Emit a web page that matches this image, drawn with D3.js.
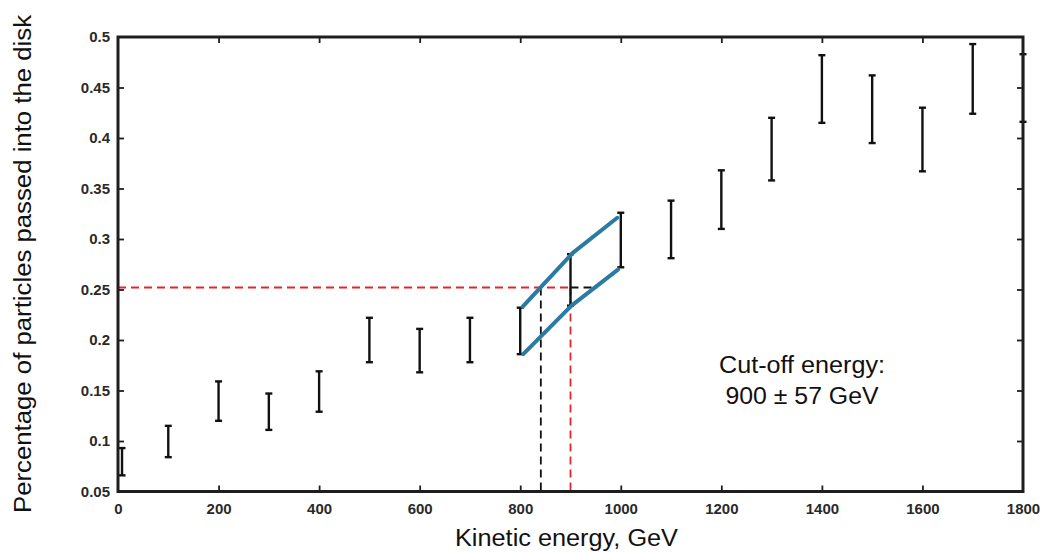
<!DOCTYPE html>
<html>
<head>
<meta charset="utf-8">
<script src="https://cdn.jsdelivr.net/npm/d3@7"></script>
<style>
  html, body { margin: 0; padding: 0; background: #fff; }
  svg { display: block; }
</style>
</head>
<body>
<svg id="chart" width="1045" height="552"></svg>
<script>
// ---- data ----
const energies = [8, 100, 200, 300, 400, 500, 600, 700, 800, 900, 1000, 1100, 1200, 1300, 1400, 1500, 1600, 1700, 1800];
const errUpper = [0.093, 0.115, 0.159, 0.147, 0.169, 0.222, 0.211, 0.222, 0.232, 0.285, 0.326, 0.338, 0.368, 0.420, 0.482, 0.462, 0.430, 0.493, 0.483];
const errLower = [0.066, 0.084, 0.120, 0.111, 0.129, 0.178, 0.168, 0.178, 0.186, 0.234, 0.272, 0.281, 0.310, 0.358, 0.415, 0.395, 0.367, 0.424, 0.416];

const bandUpperX = [805, 904, 993];
const bandUpperY = [0.233, 0.286, 0.321];
const bandLowerX = [806, 902, 995];
const bandLowerY = [0.186, 0.234, 0.270];

const cutoffLevel = 0.252;
const cutoffEnergy = 900;
const crossEnergy = 841;
const guideEndEnergy = 953;

const xTicks = [0, 200, 400, 600, 800, 1000, 1200, 1400, 1600, 1800];
const xTickLabels = ["0", "200", "400", "600", "800", "1000", "1200", "1400", "1600", "1800"];
const yTicks = [0.05, 0.1, 0.15, 0.2, 0.25, 0.3, 0.35, 0.4, 0.45, 0.5];
const yTickLabels = ["0.05", "0.1", "0.15", "0.2", "0.25", "0.3", "0.35", "0.4", "0.45", "0.5"];

const xLabel = "Kinetic energy, GeV";
const yLabel = "Percentage of particles passed into the disk";
const noteLines = ["Cut-off energy:", "900 \u00B1 57 GeV"];

// ---- layout ----
const L = 118, R = 1023, T = 37, B = 491.5;
const svg = d3.select("#chart");
const x = d3.scaleLinear().domain([0, 1800]).range([L, R]);
const y = d3.scaleLinear().domain([0.05, 0.5]).range([B, T]);
const font = "'Liberation Sans', Arial, Helvetica, sans-serif";

// guides (drawn under bars)
const g = svg.append("g");
g.append("line")
  .attr("x1", x(0)).attr("x2", x(cutoffEnergy))
  .attr("y1", y(cutoffLevel)).attr("y2", y(cutoffLevel))
  .attr("stroke", "#e3262a").attr("stroke-width", 1.8).attr("stroke-dasharray", "8,5");
g.append("line")
  .attr("x1", x(cutoffEnergy)).attr("x2", x(guideEndEnergy))
  .attr("y1", y(cutoffLevel)).attr("y2", y(cutoffLevel))
  .attr("stroke", "#111").attr("stroke-width", 1.8).attr("stroke-dasharray", "8,5");
g.append("line")
  .attr("x1", x(cutoffEnergy)).attr("x2", x(cutoffEnergy))
  .attr("y1", y(cutoffLevel)).attr("y2", B + 3)
  .attr("stroke", "#e3262a").attr("stroke-width", 1.8).attr("stroke-dasharray", "8,5");
g.append("line")
  .attr("x1", x(crossEnergy)).attr("x2", x(crossEnergy))
  .attr("y1", y(cutoffLevel)).attr("y2", B + 3)
  .attr("stroke", "#111").attr("stroke-width", 1.8).attr("stroke-dasharray", "8,5");

// error bars
const bars = svg.append("g").attr("stroke", "#111").attr("stroke-width", 2.4);
energies.forEach((e, i) => {
  const cx = x(e);
  bars.append("line").attr("x1", cx).attr("x2", cx).attr("y1", y(errUpper[i])).attr("y2", y(errLower[i]));
  bars.append("line").attr("x1", cx - 3.5).attr("x2", cx + 3.5).attr("y1", y(errUpper[i])).attr("y2", y(errUpper[i]));
  bars.append("line").attr("x1", cx - 3.5).attr("x2", cx + 3.5).attr("y1", y(errLower[i])).attr("y2", y(errLower[i]));
});

// blue band
const line = d3.line().x(d => x(d[0])).y(d => y(d[1]));
[[bandUpperX, bandUpperY], [bandLowerX, bandLowerY]].forEach(([xs, ys]) => {
  svg.append("path")
    .attr("d", line(xs.map((v, i) => [v, ys[i]])))
    .attr("fill", "none").attr("stroke", "#2a7aa3").attr("stroke-width", 4)
    .attr("stroke-linecap", "round").attr("stroke-linejoin", "round");
});

// axes with inward ticks
const axCol = "#1e1e1e";
const xb = svg.append("g").attr("transform", `translate(0,${B})`)
  .call(d3.axisBottom(x).tickValues(xTicks).tickSizeInner(-6).tickSizeOuter(0).tickPadding(12)
    .tickFormat((d, i) => xTickLabels[i]));
const xt = svg.append("g").attr("transform", `translate(0,${T})`)
  .call(d3.axisTop(x).tickValues(xTicks).tickSizeInner(-6).tickSizeOuter(0).tickFormat(""));
const yl = svg.append("g").attr("transform", `translate(${L},0)`)
  .call(d3.axisLeft(y).tickValues(yTicks).tickSizeInner(-6).tickSizeOuter(0).tickPadding(8)
    .tickFormat((d, i) => yTickLabels[i]));
const yr = svg.append("g").attr("transform", `translate(${R},0)`)
  .call(d3.axisRight(y).tickValues(yTicks).tickSizeInner(-6).tickSizeOuter(0).tickFormat(""));
[xb, xt, yl, yr].forEach(a => {
  a.select(".domain").remove();
  a.selectAll(".tick line").attr("stroke", axCol).attr("stroke-width", 1.8);
  a.selectAll(".tick text").attr("fill", "#2a2a2a")
    .style("font-family", font).style("font-size", "15px").style("font-weight", "bold");
});
// remove ticks that sit on the frame corners
xb.selectAll(".tick").filter(d => d === 0 || d === 1800).select("line").remove();
xt.selectAll(".tick").filter(d => d === 0 || d === 1800).remove();
yl.selectAll(".tick").filter(d => d === 0.05 || d === 0.5).select("line").remove();
yr.selectAll(".tick").filter(d => d === 0.05 || d === 0.5).remove();

// frame
svg.append("rect").attr("x", L).attr("y", T).attr("width", R - L).attr("height", B - T)
  .attr("fill", "none").attr("stroke", axCol).attr("stroke-width", 3);

// axis titles
svg.append("text").attr("x", (L + R) / 2 - 4).attr("y", 546)
  .attr("text-anchor", "middle").attr("textLength", 223).attr("lengthAdjust", "spacingAndGlyphs")
  .style("font-family", font).style("font-size", "23px").attr("fill", "#111").text(xLabel);
svg.append("text").attr("transform", "translate(31,264) rotate(-90)")
  .attr("text-anchor", "middle").attr("textLength", 498).attr("lengthAdjust", "spacingAndGlyphs")
  .style("font-family", font).style("font-size", "23px").attr("fill", "#111").text(yLabel);

// annotation
const noteW = [166, 153];
noteLines.forEach((t, i) => {
  svg.append("text").attr("x", 802).attr("y", 373 + i * 30.5)
    .attr("text-anchor", "middle").attr("textLength", noteW[i]).attr("lengthAdjust", "spacingAndGlyphs")
    .style("font-family", font).style("font-size", "23.5px").attr("fill", "#111").text(t);
});
</script>
</body>
</html>
